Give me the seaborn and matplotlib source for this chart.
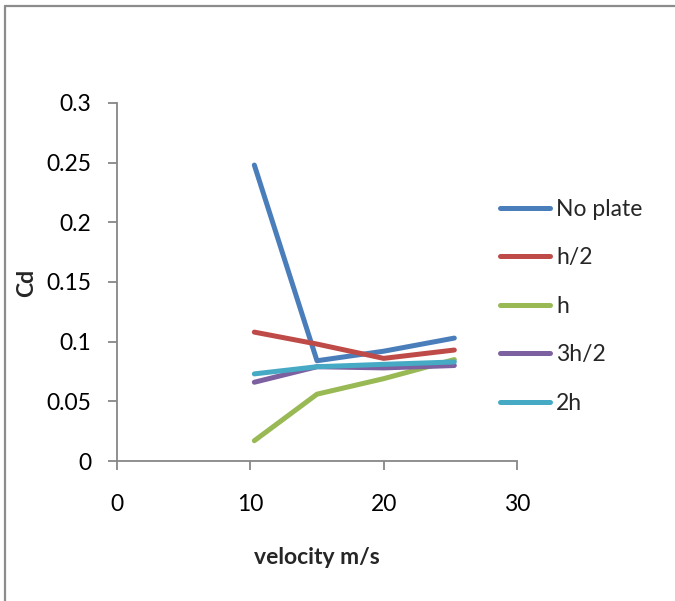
import pandas as pd
import seaborn as sns
import matplotlib.pyplot as plt
from matplotlib.lines import Line2D

# velocity (m/s) and drag coefficient
velocity = [10.3, 15, 20, 25.3]
cd_no_plate = [0.248, 0.084, 0.092, 0.103]
cd_h_half = [0.108, 0.098, 0.086, 0.093]
cd_h = [0.017, 0.056, 0.069, 0.085]
cd_3h_half = [0.066, 0.079, 0.078, 0.080]
cd_2h = [0.073, 0.079, 0.081, 0.083]

series_names = ['No plate', 'h/2', 'h', '3h/2', '2h']
series_values = [cd_no_plate, cd_h_half, cd_h, cd_3h_half, cd_2h]
colors = ['#4A7EBB', '#BE4B48', '#98B954', '#7D60A0', '#46AAC5']

rows = []
for name, vals in zip(series_names, series_values):
    for v, c in zip(velocity, vals):
        rows.append({'velocity': v, 'Cd': c, 'case': name})
df = pd.DataFrame(rows)

sns.set_style('white')
plt.rcParams['font.family'] = ['Lato', 'DejaVu Sans']

fig = plt.figure(figsize=(6.75, 6.01), dpi=100)
ax = fig.add_axes([117 / 675, 140 / 601, 400 / 675, 358 / 601])

sns.lineplot(data=df, x='velocity', y='Cd', hue='case', hue_order=series_names,
             palette=colors, linewidth=3.6, ax=ax, sort=False, estimator=None)
for ln in ax.get_lines():
    ln.set_solid_capstyle('round')
    ln.set_solid_joinstyle('round')

ax.set_xlim(0, 30)
ax.set_ylim(0, 0.3)
ax.set_xticks([0, 10, 20, 30])
ax.set_yticks([0, 0.05, 0.1, 0.15, 0.2, 0.25, 0.3])
ax.set_yticklabels(['0', '0.05', '0.1', '0.15', '0.2', '0.25', '0.3'])
ax.tick_params(axis='both', direction='out', length=6.5, width=1.3, color='#878787',
               labelsize=16.5, labelcolor='black', bottom=True, left=True)
ax.tick_params(axis='x', pad=17)
ax.tick_params(axis='y', pad=12)
for side in ['top', 'right']:
    ax.spines[side].set_visible(False)
for side in ['left', 'bottom']:
    ax.spines[side].set_color('#878787')
    ax.spines[side].set_linewidth(1.3)

ax.set_xlabel('velocity m/s', fontsize=16.5, fontweight='bold')
ax.set_ylabel('Cd', fontsize=16.5, fontweight='bold')
ax.xaxis.set_label_coords(0.5, -0.24)
ax.yaxis.set_label_coords(-0.2, 0.497)

leg = ax.legend(loc='upper left', bbox_to_anchor=(500 / 675, 1 - 199 / 601),
                bbox_transform=fig.transFigure, frameon=False, fontsize=16.5,
                handlelength=2.2, handletextpad=0.25, labelspacing=1.2,
                borderaxespad=0, borderpad=0)
for h in leg.get_lines():
    h.set_linewidth(3.6)
    h.set_solid_capstyle('round')

# chart frame (partially visible)
fig.add_artist(Line2D([5 / 675, 5 / 675], [0, 1 - 6 / 601], transform=fig.transFigure,
                      color='#8c8c8c', linewidth=1.6))
fig.add_artist(Line2D([5 / 675, 1], [1 - 6 / 601, 1 - 6 / 601], transform=fig.transFigure,
                      color='#8c8c8c', linewidth=1.6))

fig.savefig('out.png', dpi=100, facecolor='white')
